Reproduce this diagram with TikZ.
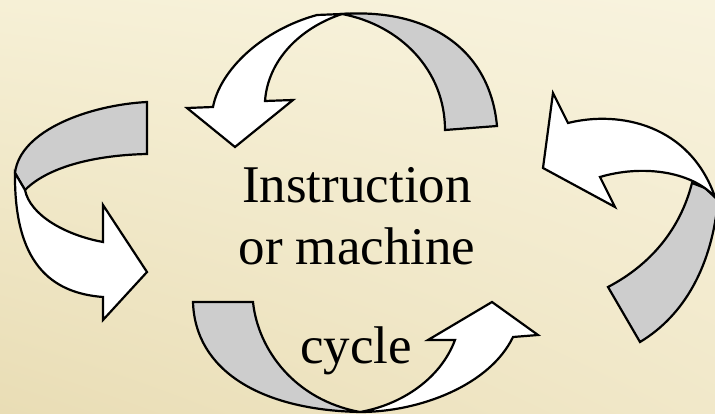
\documentclass[tikz,border=0pt]{standalone}
\usepackage{fontspec}
\setmainfont{Liberation Serif}
\usetikzlibrary{shadings}
\definecolor{bandgray}{RGB}{205,205,205}
\definecolor{bgUL}{RGB}{246,240,214}
\definecolor{bgUR}{RGB}{248,243,222}
\definecolor{bgLL}{RGB}{233,221,181}
\definecolor{bgLR}{RGB}{241,232,201}
\tikzset{
  under/.style={draw=black, line width=2.2pt, fill=bandgray, line join=miter},
  over/.style={draw=black, line width=2.2pt, fill=white, line join=miter},
  label/.style={font=\fontsize{53}{62}\selectfont, inner sep=0pt, anchor=base}
}
\begin{document}
\begin{tikzpicture}[x=1pt,y=-1pt]
\useasboundingbox (0,0) rectangle (715,414);
\shade[upper left=bgUL, upper right=bgUR, lower left=bgLL, lower right=bgLR] (0,0) rectangle (715,414);
\begin{scope}
\clip (0,0) rectangle (715,414);
% top arrow
\path[under] (342,14) .. controls (430,8) and (490,50) .. (497,126) -- (445,130)
  .. controls (445,70) and (400,25) .. (342,14) -- cycle;
\path[over] (317,15) .. controls (262,30) and (220,70) .. (213,107) -- (187,108) -- (235,147)
  -- (293,100) -- (265,101) .. controls (268,60) and (300,28) .. (342,14) -- cycle;
% left arrow
\path[under] (147,102) .. controls (90,105) and (20,130) .. (15,173) -- (25,190)
  .. controls (50,165) and (100,155) .. (147,154) -- cycle;
\path[over] (15,173) .. controls (14,262) and (50,293) .. (103,297) -- (103,320) -- (147,272)
  -- (103,205) -- (103,242) .. controls (65,235) and (30,215) .. (25,190) -- cycle;
% right arrow
\path[under] (692,183) .. controls (680,230) and (650,265) .. (608,287) -- (640,342)
  .. controls (685,315) and (712,265) .. (718,200) -- (705,188) -- cycle;
\path[over] (543,168) -- (553,93) -- (568,123) .. controls (620,110) and (690,125) .. (715,197)
  .. controls (690,170) and (640,165) .. (600,177) -- (615,207) -- cycle;
% bottom arrow
\path[under] (193,302) -- (253,302) .. controls (258,350) and (295,400) .. (360,412)
  .. controls (260,410) and (195,370) .. (193,302) -- cycle;
\path[over] (360,412) .. controls (420,412) and (490,385) .. (513,337) -- (538,335) -- (492,302)
  -- (428,340) -- (455,340) .. controls (440,380) and (400,405) .. (360,412) -- cycle;
\end{scope}
\node[label] (l1) at (357,203) {Instruction};
\node[label] (l2) at (357,265) {or machine};
\node[label] (l3) at (356,363) {cycle};
\end{tikzpicture}
\end{document}
